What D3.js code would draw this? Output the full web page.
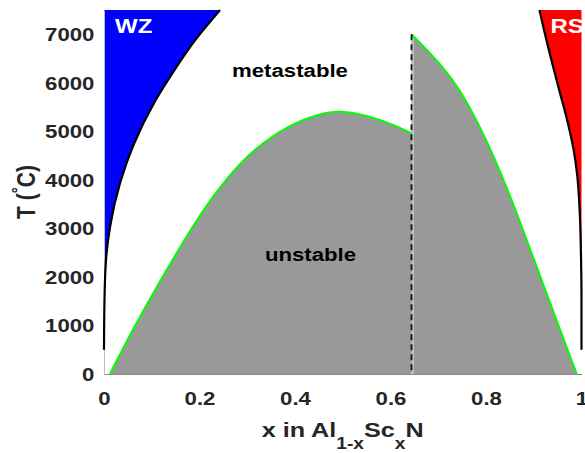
<!DOCTYPE html>
<html>
<head>
<meta charset="utf-8">
<script src="https://cdn.jsdelivr.net/npm/d3@7"></script>
<style>
  html, body { margin: 0; padding: 0; background: #fff; }
  svg { display: block; }
  text { font-family: "Liberation Sans", Arial, sans-serif; font-weight: bold; }
</style>
</head>
<body>
<svg id="chart" width="585" height="453"></svg>
<script>
// ---- data (x = Sc fraction, T in °C) ----
const xTickValues = [0, 0.2, 0.4, 0.6, 0.8, 1];
const xTickLabels = ["0", "0.2", "0.4", "0.6", "0.8", "1"];
const yTickValues = [0, 1000, 2000, 3000, 4000, 5000, 6000, 7000];
const yTickLabels = ["0", "1000", "2000", "3000", "4000", "5000", "6000", "7000"];

// left spinodal (unstable region, wurtzite side)
const spinLeftX = [0.0126, 0.06, 0.13, 0.2, 0.264, 0.313, 0.383, 0.452, 0.5, 0.557, 0.606, 0.644];
const spinLeftT = [0, 920, 2130, 3290, 4120, 4620, 5110, 5370, 5430, 5310, 5140, 4955];
// right spinodal (rocksalt side)
const spinRightX = [0.644, 0.711, 0.746, 0.781, 0.815, 0.85, 0.885, 0.92, 0.955, 0.99];
const spinRightT = [7000, 6330, 5840, 5227, 4513, 3690, 2770, 1840, 910, 0];
// wurtzite stability boundary
const wzX = [0, 0.001, 0.0042, 0.0126, 0.0335, 0.061, 0.108, 0.142, 0.191, 0.243];
const wzT = [500, 1520, 2350, 3030, 3930, 4700, 5640, 6180, 6880, 7500];
// rocksalt stability boundary
const rsX = [0.912, 0.931, 0.952, 0.97, 0.983, 0.991, 0.996, 0.999, 1.0, 1.0];
const rsT = [7500, 6700, 5900, 5230, 4650, 4100, 3400, 2400, 1500, 500];
// phase crossover composition
const dashX = 0.644;
const dashT = [0, 7000];

const regionLabels = ["WZ", "RS", "metastable", "unstable"];

// ---- chart ----
const svg = d3.select("#chart");
const SX = 1.2; // horizontal text stretch of the original figure

const x = d3.scaleLinear().domain([0, 1]).range([104, 581.5]);
const y = d3.scaleLinear().domain([0, 7500]).range([374, 10]);

const zip = (xs, ts) => xs.map((v, i) => [v, ts[i]]);
const spinL = zip(spinLeftX, spinLeftT);
const spinR = zip(spinRightX, spinRightT);
const wz = zip(wzX, wzT);
const rs = zip(rsX, rsT);

const lineS = d3.line().x(d => x(d[0])).y(d => y(d[1])).curve(d3.curveBasis);
const lineY = d3.line().x(d => x(d[0])).y(d => y(d[1])).curve(d3.curveMonotoneY);

// fills
svg.append("path")
  .attr("d", lineY(wz) + "L" + x(0) + "," + y(7500) + "Z")
  .attr("fill", "#0000ff");
svg.append("path")
  .attr("d", lineY(rs) + "L" + x(1) + "," + y(7500) + "Z")
  .attr("fill", "#ff0000");
svg.append("path")
  .attr("d", lineS(spinL) + "L" + x(dashX) + "," + y(0) + "Z")
  .attr("fill", "#999999");
svg.append("path")
  .attr("d", lineS(spinR) + "L" + x(dashX) + "," + y(0) + "Z")
  .attr("fill", "#999999");

// thin light seam right of the dashed line
svg.append("line")
  .attr("x1", x(dashX) + 1.5).attr("x2", x(dashX) + 1.5)
  .attr("y1", y(dashT[0])).attr("y2", y(dashT[1]))
  .attr("stroke", "#e6e6e6").attr("stroke-width", 1);

// axes
const xAxis = d3.axisBottom(x).tickValues(xTickValues).tickSize(0)
  .tickFormat((d, i) => xTickLabels[i]);
const gx = svg.append("g").attr("transform", "translate(0," + y(0) + ")").call(xAxis);
gx.select(".domain").attr("stroke", "#8a8a8a").attr("stroke-width", 1);
gx.selectAll("text")
  .attr("y", 31).attr("dy", 0)
  .attr("transform", "scale(" + SX + ",1)")
  .attr("fill", "#262626").style("font-size", "18.5px");

const yAxis = d3.axisLeft(y).tickValues(yTickValues).tickSize(0)
  .tickFormat((d, i) => yTickLabels[i]);
const gy = svg.append("g").attr("transform", "translate(" + x(0) + ",0)").call(yAxis);
gy.select(".domain").attr("stroke", "#bdbdbd").attr("stroke-width", 1);
gy.selectAll("text")
  .attr("x", -8).attr("dy", "0.35em")
  .attr("transform", "scale(" + SX + ",1)")
  .attr("fill", "#262626").style("font-size", "18.5px");

// curves
svg.append("path").attr("d", lineS(spinL)).attr("fill", "none")
  .attr("stroke", "#00ff00").attr("stroke-width", 2);
svg.append("path").attr("d", lineS(spinR)).attr("fill", "none")
  .attr("stroke", "#00ff00").attr("stroke-width", 2);
svg.append("path").attr("d", lineY(wz)).attr("fill", "none")
  .attr("stroke", "#000").attr("stroke-width", 2.2);
svg.append("path").attr("d", lineY(rs)).attr("fill", "none")
  .attr("stroke", "#000").attr("stroke-width", 2.2);
svg.append("line")
  .attr("x1", x(dashX)).attr("x2", x(dashX))
  .attr("y1", y(dashT[1])).attr("y2", y(dashT[0]))
  .attr("stroke", "#111").attr("stroke-width", 1.8)
  .attr("stroke-dasharray", "6,4");

// region labels
function label(txt, cx, by, size, color, anchor) {
  svg.append("g").attr("transform", "translate(" + cx + "," + by + ") scale(" + SX + ",1)")
    .append("text").attr("text-anchor", anchor).attr("fill", color)
    .style("font-size", size + "px").text(txt);
}
label(regionLabels[0], 115, 33, 20, "#fff", "start");
label(regionLabels[1], 550.5, 33, 20, "#fff", "start");
label(regionLabels[2], 290, 77, 18.5, "#000", "middle");
label(regionLabels[3], 310.5, 261, 18.5, "#000", "middle");

// x label: x in Al_{1-x}Sc_xN
const xl = svg.append("g").attr("transform", "translate(342.7,436.5) scale(" + SX + ",1)")
  .append("text").attr("text-anchor", "middle").attr("fill", "#262626").style("font-size", "21px");
xl.append("tspan").text("x in Al");
xl.append("tspan").attr("dy", 12).style("font-size", "16px").text("1-x");
xl.append("tspan").attr("dy", -12).text("Sc");
xl.append("tspan").attr("dy", 12).style("font-size", "16px").text("x");
xl.append("tspan").attr("dy", -12).text("N");

// y label: T (°C)
const yl = svg.append("g").attr("transform", "translate(35,192) scale(" + SX + ",1) rotate(-90)")
  .append("text").attr("text-anchor", "middle").attr("fill", "#262626").style("font-size", "21px");
yl.append("tspan").text("T (");
yl.append("tspan").attr("dy", -9).style("font-size", "15px").text("°");
yl.append("tspan").attr("dy", 9).text("C)");
</script>
</body>
</html>
